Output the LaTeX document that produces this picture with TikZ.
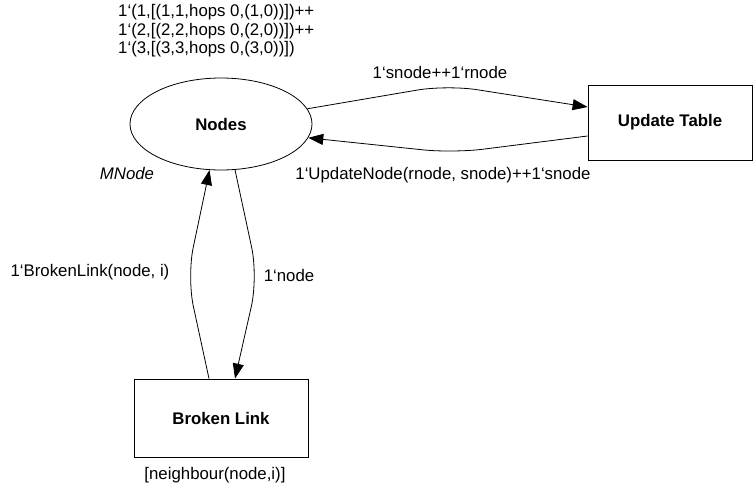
\documentclass[tikz,border=0pt]{standalone}
\usepackage{fontspec}
\setmainfont{Liberation Sans}
\usetikzlibrary{shapes.geometric,arrows.meta}
\begin{document}
\begin{tikzpicture}[x=1pt,y=-1pt,
  every node/.style={font=\fontsize{16.8}{18.5}\selectfont, inner sep=0pt},
  place/.style={draw, ellipse, line width=0.8pt, minimum width=182pt, minimum height=92pt, font=\fontsize{16.8}{18.5}\selectfont\bfseries},
  trans/.style={draw, rectangle, line width=0.8pt, font=\fontsize{16.8}{18.5}\selectfont\bfseries},
  arc/.style={line width=0.8pt, rounded corners=30pt, -{Triangle[length=15pt,width=11pt]}},
  lbl/.style={anchor=center}]
\useasboundingbox (0,0) rectangle (753,491);

% places and transitions
\node[place] (nodes) at (221,124) {Nodes};
\node[trans, minimum width=164pt, minimum height=75pt] (upd) at (670,122.5) {Update Table};
\node[trans, minimum width=174pt, minimum height=78pt] (brk) at (221,418) {Broken Link};

% place annotations
\node[anchor=west, align=left] (init) at (118,31) {1‘(1,[(1,1,hops 0,(1,0))])++\\1‘(2,[(2,2,hops 0,(2,0))])++\\1‘(3,[(3,3,hops 0,(3,0))])};
\node[lbl, font=\fontsize{16.8}{18.5}\selectfont\itshape] (ctype) at (127,173) {MNode};
\node[lbl] (guard) at (215,475) {[neighbour(node,i)]};

% arcs between Nodes and Update Table
\draw[arc] (nodes.10) -- (447,85) -- ([yshift=15.5pt]upd.west);
\draw[arc] ([yshift=-13.5pt]upd.west) -- (453,153) -- (nodes.-9);

% arcs between Nodes and Broken Link
\draw[arc] ([xshift=-12pt]brk.north) -- (187,277) -- (nodes.256);
\draw[arc] (nodes.287) -- (258,277) -- ([xshift=14pt]brk.north);

% arc inscriptions
\node[lbl] (e1) at (440,72) {1‘snode++1‘rnode};
\node[lbl] (e2) at (443,175) {1‘UpdateNode(rnode, snode)++1‘snode};
\node[lbl] (e3) at (90,272) {1‘BrokenLink(node, i)};
\node[lbl] (e4) at (289,275) {1‘node};
\end{tikzpicture}
\end{document}
